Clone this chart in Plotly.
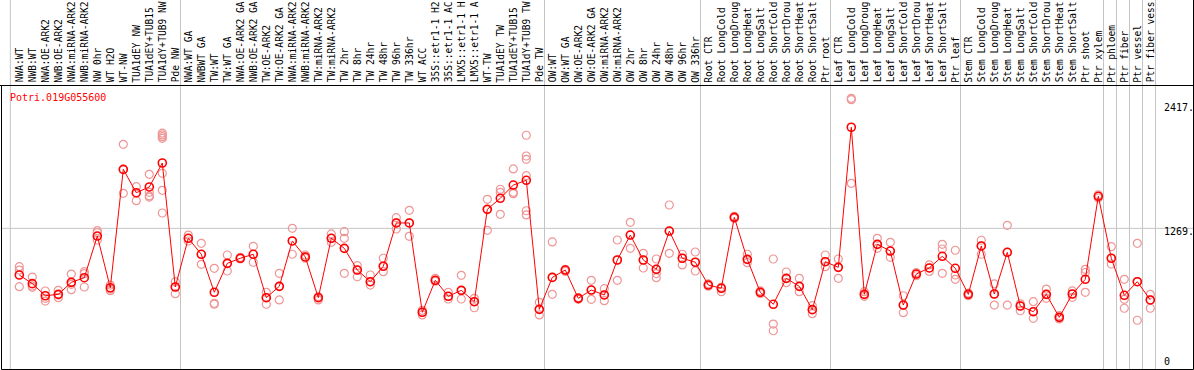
import plotly.graph_objects as go

categories = [
    "NWA:WT", "NWB:WT", "NWA:OE-ARK2", "NWB:OE-ARK2", "NWA:miRNA-ARK2", "NWB:miRNA-ARK2",
    "NW 0hr", "WT H2O", "WT-NW", "TUA1dEY NW", "TUA1dEY+TUB15", "TUA1dY+TUB9 NW", "Pde NW",
    "NWA:WT GA", "NWBWT GA", "TW:WT", "TW:WT GA", "NWA:OE-ARK2 GA", "NWB:OE-ARK2 GA",
    "TW:OE-ARK2", "TW:OE-ARK2 GA", "NWA:miRNA-ARK2", "NWB:miRNA-ARK2", "TW:miRNA-ARK2",
    "TW:miRNA-ARK2", "TW 2hr", "TW 8hr", "TW 24hr", "TW 48hr", "TW 96hr", "TW 336hr",
    "WT ACC", "35S::etr1-1 H2", "35S::etr1-1 AC", "LMX5::etr1-1 H", "LMX5::etr1-1 A",
    "WT-TW", "TUA1dEY TW", "TUA1dEY+TUB15", "TUA1dY+TUB9 TW", "Pde TW",
    "OW:WT", "OW:WT GA", "OW:OE-ARK2", "OW:OE-ARK2 GA", "OW:miRNA-ARK2", "OW:miRNA-ARK2",
    "OW 2hr", "OW 8hr", "OW 24hr", "OW 48hr", "OW 96hr", "OW 336hr",
    "Root CTR", "Root LongCold", "Root LongDroug", "Root LongHeat", "Root LongSalt",
    "Root ShortCold", "Root ShortDrou", "Root ShortHeat", "Root ShortSalt", "Ptr root",
    "Leaf CTR", "Leaf LongCold", "Leaf LongDroug", "Leaf LongHeat", "Leaf LongSalt",
    "Leaf ShortCold", "Leaf ShortDrou", "Leaf ShortHeat", "Leaf ShortSalt", "Ptr leaf",
    "Stem CTR", "Stem LongCold", "Stem LongDroug", "Stem LongHeat", "Stem LongSalt",
    "Stem ShortCold", "Stem ShortDrou", "Stem ShortHeat", "Stem ShortSalt", "Ptr shoot",
    "Ptr xylem", "Ptr phloem", "Ptr fiber", "Ptr vessel", "Ptr fiber vess",
]

means = [
    837, 757, 645, 658, 769, 812, 1198, 719, 1815, 1599, 1652, 1874, 726,
    1177, 1029, 677, 945, 992, 1029, 627, 732, 1152, 1004, 627, 1177, 1084, 883,
    775, 918, 1319, 1319, 492, 788, 640, 695, 590, 1445, 1547, 1670, 1714, 519,
    815, 883, 621, 698, 652, 976, 1207, 976, 890, 1244, 992, 955,
    744, 714, 1371, 982, 677, 566, 806, 732, 516, 960,
    908, 2205, 658, 1121, 1059, 559, 846, 902, 1010, 899,
    658, 1106, 661, 1047, 550, 497, 658, 445, 661, 797,
    1566, 992, 649, 775, 606,
]

replicates = [
    [914, 883, 729], [818, 735, 723], [689, 621, 596], [695, 652, 627],
    [846, 751, 701], [868, 849, 726], [1247, 1229, 1161], [744, 707, 692],
    [2047, 1815, 1593], [1655, 1594, 1525], [1769, 1603, 1569, 1559],
    [2150, 2134, 2118, 2103, 1779, 1621, 1411], [775, 726, 664],
    [1207, 1177, 1152], [1130, 1029, 936], [899, 575, 566], [1022, 945, 874],
    [1000, 992, 985], [1103, 1029, 955], [677, 627, 566], [853, 732, 606],
    [1269, 1152, 1029], [1022, 1004, 992], [636, 627, 606], [1217, 1177, 1140],
    [1238, 1177, 853], [923, 883, 821], [837, 775, 744], [992, 918, 868],
    [1368, 1319, 1263], [1436, 1319, 1195], [510, 492, 467], [806, 788, 780],
    [677, 640, 615], [834, 695, 615], [621, 590, 534], [1538, 1445, 1251],
    [1631, 1603, 1399], [1819, 1603, 1590], [2131, 1939, 1908, 1757, 1432, 1393],
    [584, 519, 467], [1143, 815, 658], [890, 883, 870], [628, 621, 612],
    [788, 698, 612], [710, 652, 599], [1161, 976, 788], [1325, 1207, 1084],
    [1038, 976, 902], [985, 890, 850, 812], [1485, 1244, 1038], [1029, 992, 930],
    [1050, 955, 874], [755, 744, 733], [725, 714, 683], [1380, 1371, 1360],
    [1029, 982, 951], [690, 677, 665], [985, 383, 321], [865, 806, 766],
    [806, 732, 683], [553, 516, 479], [1022, 960, 914], [985, 908, 806],
    [2473, 2460, 1686], [683, 658, 640], [1177, 1121, 1084], [1140, 1059, 1001],
    [645, 559, 488], [860, 846, 830], [930, 902, 870], [1121, 1078, 853],
    [1066, 837, 797], [670, 658, 645], [1159, 1106, 1029], [754, 661, 559],
    [1297, 1047, 559], [570, 550, 506], [590, 497, 436], [707, 658, 621],
    [460, 445, 430], [690, 661, 630], [890, 860, 677], [1580, 1566, 1550],
    [1099, 992, 939], [797, 612, 529], [1130, 775, 418], [658, 606, 529],
]

group_ends = [12, 40, 52, 62, 72, 83, 84, 85, 86, 87]
ytick_vals = [2417, 1269, 0]
ytick_text = ["2417.", "1269.", "0"]
gene_id = "Potri.019G055600"

W, H = 1194, 370
x_idx = list(range(len(categories)))

rep_x, rep_y = [], []
for i, reps in enumerate(replicates):
    for v in reps:
        rep_x.append(i)
        rep_y.append(v)

fig = go.Figure()
fig.add_trace(go.Scatter(
    x=rep_x, y=rep_y, mode="markers",
    marker=dict(symbol="circle-open", size=8, color="rgb(238,150,150)",
                line=dict(width=1.2, color="rgb(238,150,150)")),
    hoverinfo="skip", showlegend=False,
))
fig.add_trace(go.Scatter(
    x=x_idx, y=means, mode="lines+markers",
    line=dict(color="#ff0000", width=1),
    marker=dict(symbol="circle-open", size=8, color="#ff0000",
                line=dict(width=1.6, color="#ff0000")),
    showlegend=False,
))

def px_x(p):
    return p / W

def px_y(p):
    return 1 - p / H

shapes = []
black = dict(color="black", width=1)
grey = dict(color="#c4c4c4", width=1)
# group separators (through labels and plot)
for g in [-1.09] + group_ends:
    shapes.append(dict(type="line", xref="x", yref="paper", x0=g + 0.4, x1=g + 0.4,
                       y0=px_y(369), y1=1, line=grey, layer="below"))
# grid line
shapes.append(dict(type="line", xref="paper", yref="y", x0=px_x(1), x1=px_x(1193),
                   y0=ytick_vals[1], y1=ytick_vals[1], line=grey, layer="below"))
# frame
shapes.append(dict(type="line", xref="paper", yref="paper", x0=0, x1=px_x(1193.5),
                   y0=px_y(85.5), y1=px_y(85.5), line=black))
shapes.append(dict(type="line", xref="paper", yref="paper", x0=px_x(1.5), x1=px_x(1.5),
                   y0=px_y(85.5), y1=px_y(369.5), line=black))
shapes.append(dict(type="line", xref="paper", yref="paper", x0=px_x(1.5), x1=px_x(1193.5),
                   y0=px_y(369.5), y1=px_y(369.5), line=black))
shapes.append(dict(type="line", xref="paper", yref="paper", x0=px_x(1193.5), x1=px_x(1193.5),
                   y0=px_y(369.5), y1=1, line=black))

mono = "DejaVu Sans Mono"
annotations = []
for i, lab in enumerate(categories):
    annotations.append(dict(
        x=i, y=px_y(83.5), xref="x", yref="paper", text=lab, textangle=-90,
        xanchor="center", yanchor="bottom", showarrow=False, borderpad=0,
        font=dict(family=mono, size=9.6, color="black"),
    ))
annotations.append(dict(
    x=px_x(9), y=px_y(97), xref="paper", yref="paper", text=gene_id,
    xanchor="left", yanchor="middle", showarrow=False, borderpad=0,
    font=dict(family=mono, size=10, color="#ff0000"),
))
for v, t in zip(ytick_vals, ytick_text):
    annotations.append(dict(
        x=px_x(1163), y=v, xref="paper", yref="y", text=t,
        xanchor="left", yanchor="middle", showarrow=False, borderpad=0,
        yshift=(4 if v == 0 else -3.6),
        font=dict(family=mono, size=10, color="black"),
    ))

x0 = -19.3 / 13
x1 = (W - 19.3) / 13
y_top = 365.4 / 0.108
y_bot = (365.4 - H) / 0.108

fig.update_layout(
    width=W, height=H, autosize=False,
    margin=dict(l=0, r=0, t=0, b=0, pad=0),
    paper_bgcolor="white", plot_bgcolor="white",
    xaxis=dict(range=[x0, x1], visible=False, fixedrange=True),
    yaxis=dict(range=[y_bot, y_top], visible=False, fixedrange=True),
    shapes=shapes, annotations=annotations,
    showlegend=False,
)

fig.write_html(
    "out.html",
    config={"displayModeBar": False, "staticPlot": False},
    post_script="document.body.style.margin='0px';document.body.style.overflow='hidden';",
)
